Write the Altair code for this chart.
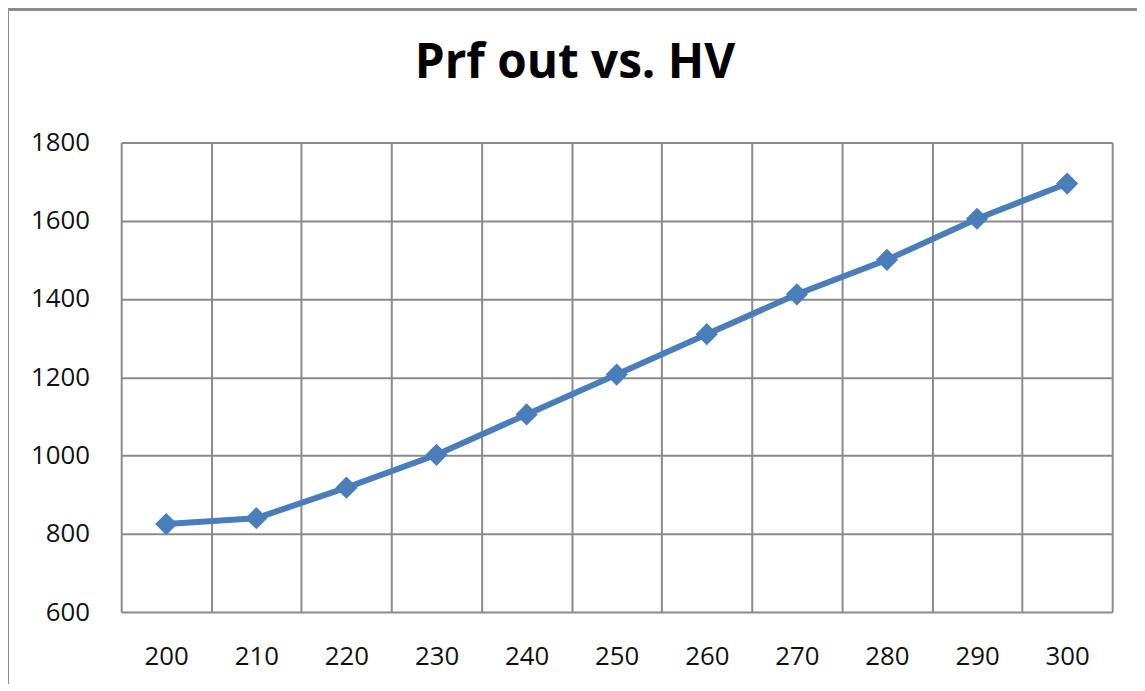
import altair as alt
import pandas as pd

hv = [200, 210, 220, 230, 240, 250, 260, 270, 280, 290, 300]
prf_out = [825, 840, 918, 1002, 1105, 1207, 1310, 1412, 1500, 1605, 1695]
y_ticks = [600, 800, 1000, 1200, 1400, 1600, 1800]

df = pd.DataFrame({"hv": hv, "prf": prf_out})

GRID = "#8a8a8a"
BLUE = "#4a7ebb"
FONT = "Open Sans"

x_enc = alt.X(
    "hv:O",
    bandPosition=0.5,
    scale=alt.Scale(type="band", paddingInner=0, paddingOuter=0),
    axis=alt.Axis(
        title=None,
        labelAngle=0,
        tickBand="extent",
        grid=True,
        gridColor=GRID,
        gridWidth=2,
        ticks=False,
        domain=False,
        labelFont=FONT,
        labelFontSize=26,
        labelColor="#111111",
        labelPadding=32,
        labelBaseline="top",
    ),
)
y_enc = alt.Y(
    "prf:Q",
    scale=alt.Scale(domain=[600, 1800], nice=False, zero=False),
    axis=alt.Axis(
        title=None,
        values=y_ticks,
        format="d",
        grid=True,
        gridColor=GRID,
        gridWidth=2,
        ticks=False,
        domain=False,
        labelFont=FONT,
        labelFontSize=26,
        labelColor="#111111",
        labelPadding=32,
    ),
)

line = alt.Chart(df).mark_line(color=BLUE, strokeWidth=6).encode(x=x_enc, y=y_enc)
pts = alt.Chart(df).mark_point(
    shape="diamond", filled=True, color=BLUE, opacity=1, size=500
).encode(x=x_enc, y=y_enc)

border_left = alt.Chart(df).mark_rule(color="#8c8c8c", strokeWidth=3).encode(
    x=alt.value(-115), y=alt.value(-134), y2=alt.value(560)
)
border_top = alt.Chart(df).mark_rule(color="#8c8c8c", strokeWidth=3).encode(
    x=alt.value(-115), x2=alt.value(1040), y=alt.value(-134)
)

chart = (
    alt.layer(line, pts, border_left, border_top)
    .properties(
        width=998,
        height=473,
        title=alt.TitleParams(
            "Prf out vs. HV",
            font=FONT,
            fontSize=48,
            fontWeight="bold",
            color="#000000",
            anchor="middle",
            frame="group",
            dx=-42,
            offset=-119,
            baseline="alphabetic",
        ),
        autosize=alt.AutoSizeParams(type="none"),
        padding={"left": 114, "top": 133, "right": 25, "bottom": 70},
    )
    .configure_view(stroke=None)
)

chart.save("out.html", embed_options={"renderer": "svg", "actions": False})
